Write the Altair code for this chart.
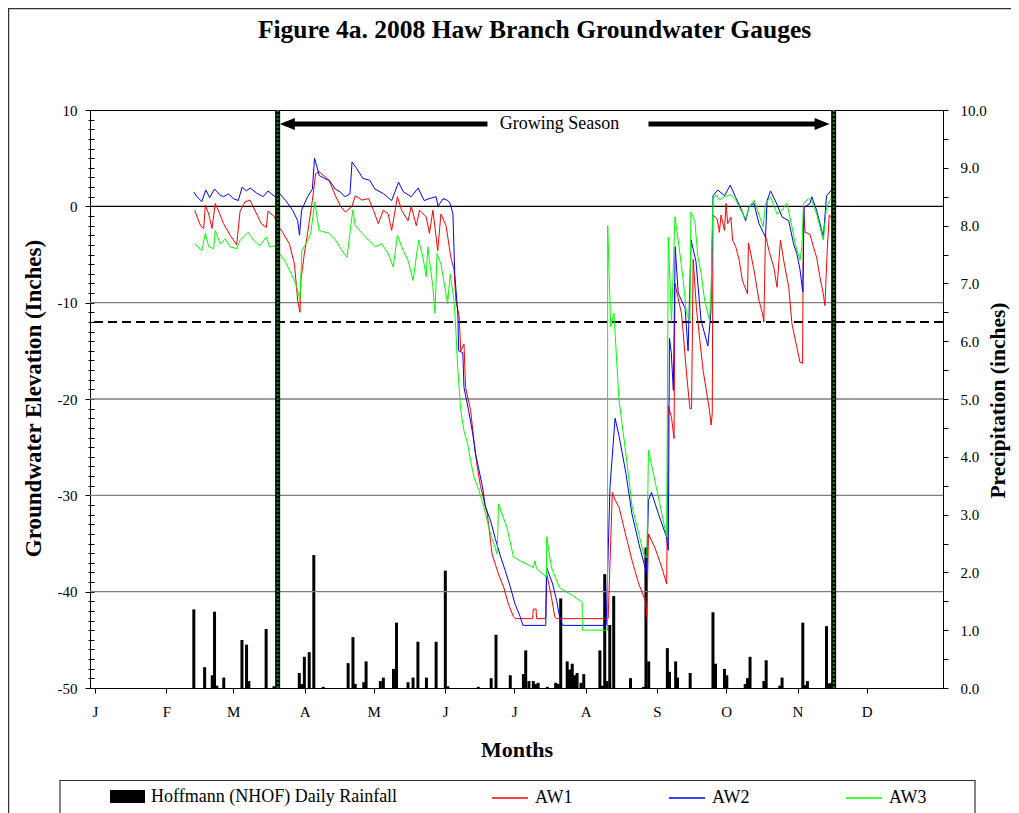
import altair as alt
import pandas as pd

# ---------------- data (day of year 2008) ----------------
aw1_day = [43.3,44.2,45.8,47.2,47.9,49.4,50.8,52.2,53.7,55.8,58.7,61.5,63.0,65.1,67.3,69.4,72.2,74.4,75.1,78.0,79.4,81.5,84.4,86.6,88.0,89.0,89.4,90.9,92.3,94.4,95.8,97.3,101.6,104.4,106.6,108.7,111.6,113.0,115.9,118.8,120.9,123.0,125.2,127.3,128.8,131.3,133.1,135.9,137.3,139.5,140.9,143.8,145.2,146.7,148.8,150.2,152.4,154.5,155.9,156.7,158.1,158.8,160.2,160.9,163.1,164.5,166.0,167.4,170.3,172.4,175.2,177.4,179.5,181.7,182.5,190.0,190.3,191.5,191.7,195.7,196.0,198.2,199.6,200.4,222.8,224.6,225.8,227.5,230.3,233.2,236.1,238.9,239.6,240.3,243.2,246.1,248.2,248.9,250.3,251.4,251.8,254.6,255.4,256.8,258.3,259.0,259.7,261.1,262.6,264.0,265.4,266.8,267.5,268.0,268.3,270.1,271.1,271.8,273.3,274.0,274.7,276.1,276.8,278.2,279.7,281.1,283.3,283.7,284.7,286.1,288.3,289.7,290.4,291.1,292.6,294.7,296.1,297.6,299.0,301.2,302.6,304.7,306.1,307.2,307.6,308.3,310.4,311.9,313.3,314.7,316.2,316.9,317.9,318.8,320.2,321.2,321.6]
aw1_val = [-0.4,-1.0,-2.0,-2.3,0.1,-0.8,-2.3,0.3,-0.5,-1.8,-3.0,-4.0,-0.5,0.45,0.65,-0.4,-1.8,-2.2,-0.5,-1.1,-2.0,-2.7,-3.9,-6.0,-9.8,-11.0,-7.7,-4.9,-2.8,0.65,3.4,3.6,2.7,1.1,0.0,-0.6,0.0,1.1,0.65,0.8,-0.4,-1.8,-0.4,-0.8,-2.5,1.0,-0.4,-1.5,0.0,-2.0,-0.4,-1.1,-2.8,-0.4,-4.6,-0.8,-2.0,-5.3,-6.6,-9.8,-11.4,-15.0,-14.3,-18.8,-21.2,-24.3,-27.1,-29.1,-31.9,-36.1,-38.2,-39.5,-41.3,-42.6,-42.8,-42.8,-41.8,-41.8,-42.8,-42.8,-38.0,-40.6,-42.6,-42.8,-42.8,-29.7,-30.5,-31.2,-34.0,-36.8,-39.2,-40.9,-42.6,-34.0,-35.5,-37.5,-39.2,-20.7,-21.9,-24.1,-8.0,-11.1,-13.2,-17.3,-21.0,-21.0,-5.5,-10.5,-13.9,-17.0,-19.1,-21.2,-22.7,-21.5,-0.9,-1.3,-2.7,-0.9,-2.5,0.3,-1.8,-1.1,-3.5,-4.2,-5.6,-7.7,-9.1,-3.8,-4.9,-6.6,-9.8,-11.0,-12.0,-3.0,-4.6,-6.3,-8.4,-3.5,-5.6,-8.4,-12.2,-14.6,-16.2,-16.3,-0.1,-2.7,-2.9,-4.2,-5.3,-7.3,-9.1,-10.3,-4.6,-0.9,-1.3,-2.5,-1.5]

aw2_day = [42.9,44.2,46.4,48.1,49.8,51.9,54.1,55.8,57.9,60.1,62.2,63.9,65.7,67.4,70.0,73.0,75.1,78.1,80.3,82.8,85.8,88.0,88.8,89.7,92.3,94.4,95.3,97.4,99.6,101.7,104.3,106.4,108.6,110.7,111.6,113.7,116.3,119.3,121.5,125.3,128.8,131.8,133.9,137.3,140.3,142.9,145.1,148.1,148.9,151.1,153.2,154.2,155.4,156.2,157.5,157.9,159.7,160.2,162.2,164.0,165.2,166.5,168.2,169.5,171.7,173.8,176.0,178.1,180.3,182.4,184.6,185.8,195.7,196.1,198.7,200.4,201.7,203.0,221.9,222.8,223.6,225.8,227.5,230.5,233.1,236.1,239.5,240.3,241.6,244.6,248.1,248.9,249.4,250.2,251.1,251.9,253.2,256.2,257.5,258.8,260.9,263.1,266.1,267.4,268.3,270.4,273.3,275.8,278.2,280.4,282.5,284.0,286.1,288.3,291.1,291.8,293.3,296.1,298.3,301.2,303.3,304.7,306.1,307.3,307.9,310.4,311.2,313.3,315.5,316.2,317.6,319.8,320.5,321.6]
aw2_val = [1.5,1.0,0.5,1.7,0.9,1.8,1.2,1.0,1.3,0.8,0.6,2.0,1.6,1.9,1.4,1.0,1.6,1.0,1.3,0.6,-0.4,-1.5,-3.0,-0.4,1.0,1.8,5.0,3.2,2.9,2.7,1.8,1.5,1.0,1.3,4.6,3.9,2.9,2.7,1.8,1.3,0.6,2.5,1.5,1.0,1.9,0.6,0.8,1.0,0.0,0.8,0.6,0.3,-0.8,-7.0,-11.1,-15.0,-15.2,-18.8,-21.2,-23.6,-25.7,-27.1,-29.1,-31.2,-32.6,-34.5,-36.3,-37.8,-39.5,-41.3,-42.6,-43.5,-43.5,-37.5,-39.2,-40.9,-42.6,-43.5,-43.5,-36.0,-29.1,-22.0,-23.8,-27.7,-31.9,-35.0,-38.1,-30.5,-29.7,-31.9,-34.3,-35.7,-13.7,-15.2,-19.1,-4.2,-9.0,-10.6,-15.0,-3.5,-5.7,-11.8,-14.5,-11.0,1.1,1.7,1.1,2.2,0.9,-0.2,-1.5,0.0,0.3,-1.8,-3.2,0.6,1.6,0.2,-1.1,-1.5,-3.9,-4.9,-6.6,-8.9,-0.1,0.3,1.0,-0.4,-2.5,-3.2,1.1,1.7,2.2,2.0]

aw3_day = [43.3,46.4,47.9,49.4,51.5,52.2,54.4,56.5,58.7,61.5,63.0,64.4,66.5,68.7,71.5,74.4,75.8,78.7,80.1,82.3,84.4,86.6,88.0,89.0,89.8,91.5,93.7,95.4,97.3,101.6,104.4,107.3,109.4,111.9,113.0,115.9,118.8,121.6,124.5,127.3,129.5,131.3,133.8,135.9,138.1,140.5,142.4,143.8,144.5,146.7,147.6,148.5,150.2,152.4,153.1,154.2,155.9,156.7,157.4,158.8,160.2,161.7,163.1,164.5,166.7,168.8,171.7,174.6,175.2,178.8,181.7,184.6,190.3,191.0,191.7,196.0,196.1,198.2,201.7,207.4,211.5,211.6,222.5,222.6,223.9,225.3,227.5,230.3,233.2,236.1,238.2,239.6,240.3,242.5,246.1,248.2,248.9,250.3,251.8,253.2,255.4,256.8,258.3,258.7,260.4,261.8,263.2,264.7,266.8,267.5,268.3,269.7,271.1,273.3,276.1,278.2,280.4,282.5,284.0,286.1,288.3,290.1,291.1,293.3,296.1,298.3,300.4,302.6,304.0,306.1,306.9,307.6,309.7,311.2,313.3,314.7,316.2,317.6,319.0,320.5,321.6]
aw3_val = [-3.9,-4.6,-2.8,-4.2,-4.4,-2.5,-3.9,-3.4,-4.2,-4.4,-3.5,-3.2,-2.7,-3.5,-4.1,-3.2,-4.2,-4.1,-4.9,-5.6,-6.6,-7.7,-8.7,-9.8,-4.6,-3.9,-2.8,0.45,-2.5,-2.8,-3.5,-4.6,-5.3,-0.4,-2.0,-2.8,-3.5,-4.2,-3.9,-4.9,-6.3,-3.0,-4.6,-5.6,-7.7,-3.5,-5.3,-7.3,-4.2,-8.4,-11.1,-4.9,-6.0,-9.1,-10.1,-7.0,-9.8,-13.0,-16.5,-21.2,-23.3,-24.6,-26.4,-28.1,-29.5,-31.2,-34.0,-36.1,-30.9,-33.3,-36.4,-36.8,-37.5,-36.8,-37.6,-38.5,-34.3,-37.5,-39.6,-40.4,-41.1,-44.0,-44.0,-2.0,-12.5,-11.1,-20.1,-25.3,-31.2,-34.0,-36.1,-36.5,-25.3,-27.8,-31.9,-34.3,-3.2,-12.0,-1.1,-3.5,-7.7,-11.1,-12.0,-0.6,-1.5,-5.3,-7.0,-9.8,-11.8,-8.7,0.8,1.2,0.65,1.0,1.2,0.65,-0.4,-1.3,-0.1,0.65,-0.9,-2.1,0.3,1.0,-0.8,-0.4,0.3,-2.1,-3.9,-5.6,-4.2,0.3,0.8,0.65,-0.8,-2.1,-3.5,-0.1,0.65,1.0,1.2]

rain_day = [42.9,47.6,50.9,51.9,52.9,55.9,63.8,65.8,66.8,74.3,77.7,88.7,89.8,90.9,93.0,95.0,99.1,109.9,112.0,113.0,116.7,117.7,123.9,125.2,129.6,130.9,135.9,138.1,140.2,143.9,148.1,152.1,153.2,166.4,172.0,174.1,180.3,186.0,187.0,188.4,190.3,191.3,192.4,196.4,200.0,201.0,202.2,205.0,206.0,207.2,208.2,209.3,211.0,212.2,219.2,220.3,221.3,222.3,223.5,225.2,232.5,238.2,239.2,240.4,248.5,249.4,252.1,252.9,258.4,268.3,269.4,273.3,274.3,282.3,283.3,284.4,290.4,291.4,297.3,298.3,307.3,308.3,309.3,317.6,318.8,319.8]
rain_in = [1.36,0.36,0.22,1.32,0.04,0.18,0.83,0.75,0.12,1.02,0.03,0.26,0.07,0.54,0.62,2.30,0.02,0.43,0.88,0.07,0.10,0.46,0.12,0.18,0.33,1.13,0.10,0.18,0.80,0.18,0.80,2.03,0.03,0.02,0.17,0.92,0.22,0.24,0.65,0.12,0.12,0.07,0.09,0.02,0.09,0.07,1.55,0.46,0.32,0.42,0.22,0.26,0.09,0.24,0.65,0.04,1.97,0.12,1.09,1.59,0.17,0.02,2.43,0.46,0.69,0.28,0.46,0.18,0.26,1.31,0.42,0.33,0.22,0.07,0.17,0.54,0.12,0.48,0.04,0.18,1.13,0.05,0.12,1.07,0.08,0.09]

series_names = ["AW1", "AW2", "AW3"]
series_colors = ["#FF0000", "#0000FF", "#00FF00"]
rain_name = "Hoffmann (NHOF) Daily Rainfall"

month_starts = [0, 31, 60, 91, 121, 152, 182, 213, 244, 274, 305, 335]
month_labels = ["J", "F", "M", "A", "M", "J", "J", "A", "S", "O", "N", "D"]

grid_levels = [0, -10, -20, -30, -40]
wetland_threshold = -12
season_start, season_end = 79.3, 320.7
season_arrow_y = 8.55

# ---------------- tables ----------------
rows = []
for name, dd, vv in zip(series_names, [aw1_day, aw2_day, aw3_day], [aw1_val, aw2_val, aw3_val]):
    for i, (d, v) in enumerate(zip(dd, vv)):
        rows.append({"series": name, "day": d, "elev": v, "i": i})
gw_df = pd.DataFrame(rows)
rain_df = pd.DataFrame({"day": rain_day, "rain": rain_in, "src": rain_name})
grid_df = pd.DataFrame({"lvl": grid_levels, "kind": ["zero" if g == 0 else "grid" for g in grid_levels]})

FONT = "Liberation Serif"
xscale = alt.Scale(domain=[0, 366], nice=False, zero=False)
yscale = alt.Scale(domain=[-50, 10], nice=False, zero=False)
pscale = alt.Scale(domain=[0, 10], nice=False, zero=True)

label_js = "[" + ",".join("'%s'" % m for m in month_labels) + "]"
start_js = "[" + ",".join(str(m) for m in month_starts) + "]"

x_axis = alt.Axis(
    values=month_starts, tickCount=100,
    labelExpr=f"{label_js}[indexof({start_js}, datum.value)]",
    title="Months", titleFontSize=22, titleFontWeight="bold", titleFont=FONT,
    titleBaseline="alphabetic", titleY=68,
    labelFont=FONT, labelFontSize=15, labelPadding=11, tickSize=5, labelFlush=False,
    grid=False, domain=False, labelAngle=0, labelOverlap=False,
)

y_axis = alt.Axis(
    orient="left",
    values=list(range(-50, 11)), tickCount=200,
    labelExpr="datum.value % 10 === 0 ? ('' + datum.value) : ''",
    labelOverlap=False, labelFlush=False,
    tickSize={"condition": {"test": "datum.value % 10 === 0", "value": 9}, "value": 6},
    offset=-4, domain=False, grid=False,
    labelFont=FONT, labelFontSize=15, labelPadding=8,
    title="Groundwater Elevation (Inches)", titleFont=FONT, titleFontSize=23, titleFontWeight="bold",
    titleAngle=-90, titleX=-61, titleY=288, titleAlign="center", titleBaseline="middle",
)

p_axis = alt.Axis(
    orient="right",
    values=[v / 2 for v in range(0, 21)], tickCount=200,
    labelExpr="datum.value % 1 === 0 ? format(datum.value, '.1f') : ''",
    labelOverlap=False, labelFlush=False,
    tickSize=5, labelPadding=12, domain=False, grid=False,
    labelFont=FONT, labelFontSize=15,
    title="Precipitation (inches)", titleFont=FONT, titleFontSize=21.5, titleFontWeight="bold",
    titleAngle=-90, titleX=55, titleY=290, titleAlign="center", titleBaseline="middle",
)

one = alt.Data(values=[{"k": 1}])

# ---------------- precipitation bars ----------------
bars = alt.Chart(rain_df).mark_bar(size=3).encode(
    x=alt.X("day:Q", scale=xscale, axis=x_axis),
    y=alt.Y("rain:Q", scale=pscale, axis=p_axis),
    fill=alt.Fill("src:N", scale=alt.Scale(domain=[rain_name], range=["#000000"]),
                  legend=alt.Legend(orient="none", legendX=20, legendY=669, title=None,
                                    symbolType="M-1,-0.37L1,-0.37L1,0.37L-1,0.37Z", symbolSize=1225,
                                    symbolStrokeWidth=0, labelFont=FONT, labelFontSize=18,
                                    labelOffset=6, padding=0, labelLimit=400)),
)

# ---------------- groundwater layers ----------------
grid = alt.Chart(grid_df).mark_rule(strokeWidth=1.3).encode(
    y=alt.Y("lvl:Q", scale=yscale, axis=y_axis),
    color=alt.Color("kind:N", scale=alt.Scale(domain=["zero", "grid"], range=["#000000", "#7f7f7f"]), legend=None),
)

dashed = alt.Chart(one).mark_rule(strokeDash=[9, 5], strokeWidth=2, color="black").encode(
    y=alt.Y("t:Q", scale=yscale)
).transform_calculate(t=str(wetland_threshold))

lines = alt.Chart(gw_df).mark_line(strokeWidth=1.0).encode(
    x=alt.X("day:Q", scale=xscale),
    y=alt.Y("elev:Q", scale=yscale),
    stroke=alt.Stroke("series:N", scale=alt.Scale(domain=series_names, range=series_colors),
                      legend=alt.Legend(orient="none", legendX=401, legendY=669, title=None,
                                        direction="horizontal", symbolType="stroke", symbolSize=1296,
                                        symbolStrokeWidth=1.5, labelFont=FONT, labelFontSize=18,
                                        labelOffset=6, columnPadding=93, padding=0)),
    order=alt.Order("i:Q"),
)

season_df = pd.DataFrame({"day": [season_start, season_end]})
vline_black = alt.Chart(season_df).mark_rule(strokeWidth=5, color="black").encode(
    x=alt.X("day:Q", scale=xscale))
vline_green = alt.Chart(season_df).mark_rule(strokeWidth=2, color="#009900", strokeDash=[2, 2]).encode(
    x=alt.X("day:Q", scale=xscale))

arrow_df = pd.DataFrame({"a": [83.0, 240.3], "b": [170.4, 316.0], "y": [season_arrow_y] * 2})
arrow_bars = alt.Chart(arrow_df).mark_rule(strokeWidth=5, color="black").encode(
    x=alt.X("a:Q", scale=xscale), x2="b:Q", y=alt.Y("y:Q", scale=yscale))
heads_df = pd.DataFrame({"day": [83.5, 315.7], "y": [season_arrow_y] * 2,
                         "shape": ["M1,-0.8L-1,0L1,0.8Z", "M-1,-0.8L1,0L-1,0.8Z"]})
heads = alt.Chart(heads_df).mark_point(filled=True, size=225, color="black", opacity=1).encode(
    x=alt.X("day:Q", scale=xscale), y=alt.Y("y:Q", scale=yscale),
    shape=alt.Shape("shape:N", scale=None))
season_text = alt.Chart(pd.DataFrame({"day": [201.7], "y": [season_arrow_y], "t": ["Growing Season"]})).mark_text(
    font=FONT, fontSize=18, color="black", baseline="middle", align="center").encode(
    x=alt.X("day:Q", scale=xscale), y=alt.Y("y:Q", scale=yscale), text="t:N")

gw = alt.layer(grid, dashed, lines, vline_black, vline_green, arrow_bars, heads, season_text)

# ---------------- frames ----------------
legend_box = alt.Chart(one).mark_rect(fill=None, stroke="#333333", strokeWidth=1.2).encode(
    x=alt.value(-30), x2=alt.value(885), y=alt.value(670.5), y2=alt.value(730))
outer_frame = alt.Chart(one).mark_rect(fill=None, stroke="#333333", strokeWidth=1.5).encode(
    x=alt.value(-81.5), x2=alt.value(950), y=alt.value(-101.5), y2=alt.value(740))

chart = alt.layer(bars, gw, legend_box, outer_frame).resolve_scale(y="independent").properties(
    width=853, height=578,
    autosize=alt.AutoSizeParams(type="none"),
    padding={"left": 82, "top": 102, "right": 68, "bottom": 125},
    title=alt.TitleParams(text="Figure 4a.  2008 Haw Branch Groundwater Gauges", font=FONT, fontSize=25.5,
                          fontWeight="bold", anchor="middle", dx=18, offset=0, dy=56, baseline="alphabetic",
                          color="black"),
).configure_view(stroke="black", strokeWidth=1).configure_axis(
    labelColor="black", titleColor="black", tickColor="black", domainColor="black"
).configure_legend(labelColor="black")

chart.save("out.html", embed_options={"renderer": "svg", "actions": False})
